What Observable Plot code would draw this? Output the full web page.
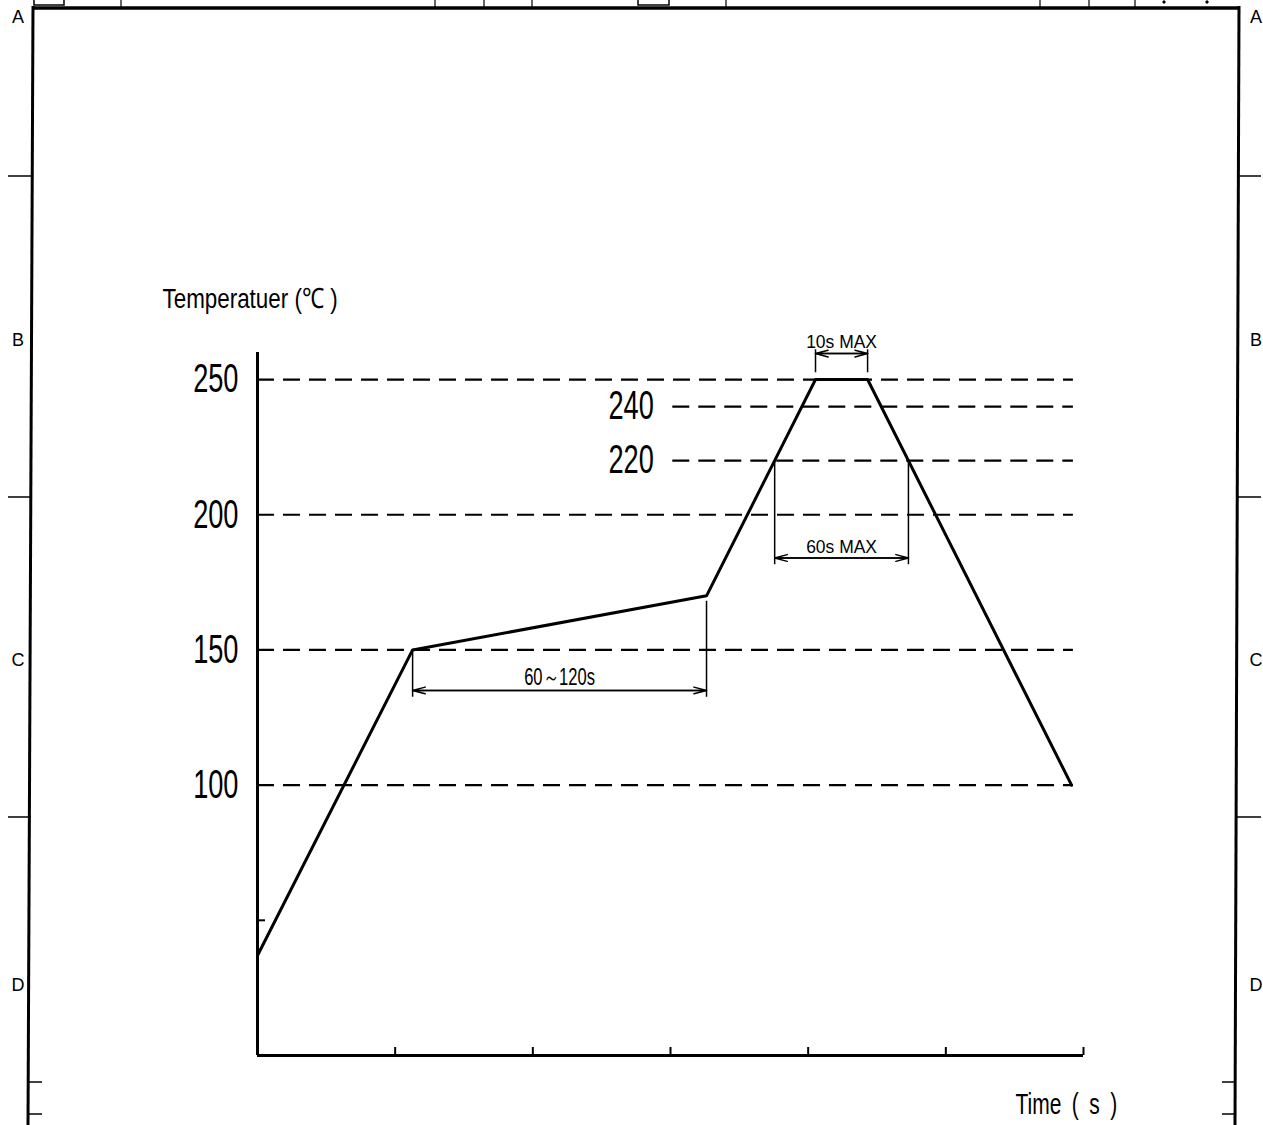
<!DOCTYPE html>
<html><head><meta charset="utf-8">
<script src="https://cdn.jsdelivr.net/npm/d3@7"></script>
<script src="https://cdn.jsdelivr.net/npm/@observablehq/plot@0.6"></script>
<style>
html,body{margin:0;padding:0;background:#fff;overflow:hidden}
#chart{position:absolute;left:0;top:0}
</style></head><body><div id="chart"></div>
<script>
// ---- data ----
const profileTime = [0, 67.6, 195.7, 243.2, 265.9, 354.8];   // s
const profileTemp = [37, 150, 170, 250, 250, 100];           // °C
const refTemps = [250, 240, 220, 200, 150, 100];
const refStart = [0, 181, 181, 0, 0, 0];
const refEnd = 355.6;
const xTicks = [60, 120, 180, 240, 300, 360];
const yTicks = [50];
const yLabel = "Temperatuer (℃ )";
const xLabel = "Time\u2002(\u2002s\u2002)";
const dimLabels = ["60～120s", "60s MAX", "10s MAX"];
const dimFrom = [67.6, 225.4, 243.2];
const dimTo = [195.7, 283.7, 265.9];
const dimAt = [135, 184, 259.6];
const extLeftFrom = [150, 220, 252.5];
const extRightFrom = [168, 220, 252.5];
const extTo = [132.5, 181.5, 261];
const zoneLetters = ["A", "B", "C", "D"];

// ---- tables built from the arrays ----
const profile = profileTime.map((t, i) => ({t, T: profileTemp[i]}));
const refs = refTemps.map((T, i) => ({T, start: refStart[i], end: refEnd}));
const dims = dimLabels.map((label, i) => ({label, from: dimFrom[i], to: dimTo[i], at: dimAt[i],
  lf: extLeftFrom[i], rf: extRightFrom[i], ext: extTo[i]}));

const font = "'Liberation Sans', Arial, sans-serif";
const W = 1263, H = 1125;
const mL = 257, mR = 180, mT = 352, mB = 70;
const plotW = W - mL - mR, plotH = H - mT - mB;

const chart = Plot.plot({
  width: W, height: H,
  marginLeft: mL, marginRight: mR, marginTop: mT, marginBottom: mB,
  x: {domain: [0, 360], axis: null},
  y: {domain: [0, 260], axis: null},
  style: {background: "white", fontFamily: font, color: "black"},
  marks: [
    // dashed reference levels
    Plot.ruleY(refs, {y: "T", x1: "start", x2: "end", stroke: "black", strokeWidth: 2.2, strokeDasharray: "17,9"}),
    // level labels
    Plot.text(refs, {x: "start", y: "T", text: d => String(d.T), textAnchor: "end", dx: -19,
      fontSize: 40, fill: "black"}),
    // axes
    Plot.ruleX([0], {y1: 0, y2: 260, stroke: "black", strokeWidth: 3}),
    Plot.ruleY([0], {x1: 0, x2: 360, stroke: "black", strokeWidth: 3}),
    Plot.tickX(xTicks, {x: d => d, insetTop: plotH - 8, stroke: "black", strokeWidth: 2}),
    Plot.tickY(yTicks, {y: d => d, insetRight: plotW - 8, stroke: "black", strokeWidth: 2}),
    // profile
    Plot.line(profile, {x: "t", y: "T", stroke: "black", strokeWidth: 3}),
    // dimension extension lines
    Plot.ruleX(dims, {x: "from", y1: "lf", y2: "ext", stroke: "black", strokeWidth: 1.5}),
    Plot.ruleX(dims, {x: "to", y1: "rf", y2: "ext", stroke: "black", strokeWidth: 1.5}),
    // dimension arrows (double-headed: one each way)
    Plot.arrow(dims, {x1: "to", y1: "at", x2: "from", y2: "at",
      stroke: "black", strokeWidth: 1.5, headLength: 13, headAngle: 30}),
    Plot.arrow(dims, {x1: "from", y1: "at", x2: "to", y2: "at",
      stroke: "black", strokeWidth: 1.5, headLength: 13, headAngle: 30}),
    // dimension texts
    Plot.text(dims, {filter: (d, i) => i === 0, x: d => (d.from + d.to) / 2, y: "at", text: "label",
      dy: -13, fontSize: 23, fill: "black"}),
    Plot.text(dims, {filter: (d, i) => i > 0, x: d => (d.from + d.to) / 2, y: "at", text: "label",
      dy: -11, fontSize: 18, fill: "black"}),
    // axis titles
    Plot.text([yLabel], {x: 0, y: 260, text: d => d, textAnchor: "start", dx: -95, dy: -53,
      fontSize: 28, fill: "black"}),
    Plot.text([xLabel], {x: 360, y: 0, text: d => d, textAnchor: "start", dx: -68, dy: 49,
      fontSize: 30, fill: "black"})
  ]
});
document.getElementById("chart").appendChild(chart);

// condense the text horizontally, like the narrow drafting font of the drawing
const squeeze = new Map();
refTemps.forEach(T => squeeze.set(String(T), 0.68));
squeeze.set(dimLabels[0], 0.72);
squeeze.set(dimLabels[1], 0.97);
squeeze.set(dimLabels[2], 0.97);
squeeze.set(yLabel, 0.8);
squeeze.set(xLabel, 0.7);
chart.querySelectorAll("text").forEach(t => {
  const k = squeeze.get(t.textContent);
  if (!k) return;
  const tr = t.getAttribute("transform") || "";
  const x = +t.getAttribute("x") || 0;
  t.setAttribute("transform", `${tr} translate(${x},0) scale(${k},1) translate(${-x},0)`);
});

// ---- drawing-sheet frame (decoration) ----
const svg = d3.select(chart);
const fr = svg.append("g").attr("stroke", "black").attr("fill", "none");
fr.append("path").attr("d", "M32,8H1239").attr("stroke-width", 3.5);
fr.append("path").attr("d", "M33,6L28,1125").attr("stroke-width", 3);
fr.append("path").attr("d", "M1239,6L1235,1125").attr("stroke-width", 3);
[176, 497, 817].forEach(y => {
  fr.append("path").attr("d", `M8,${y}H31`).attr("stroke-width", 1.5);
  fr.append("path").attr("d", `M1237,${y}H1261`).attr("stroke-width", 1.5);
});
[1082, 1114].forEach(y => {
  fr.append("path").attr("d", `M29,${y}H42`).attr("stroke-width", 1.5);
  fr.append("path").attr("d", `M1222,${y}H1235`).attr("stroke-width", 1.5);
});
[121, 435, 484, 532, 726, 1040, 1089, 1135].forEach(x => {
  fr.append("path").attr("d", `M${x},0V8`).attr("stroke-width", 1.2);
});
fr.append("path").attr("d", "M34,0V5H64V0").attr("stroke-width", 1.5);
fr.append("path").attr("d", "M638,0V5H669V0").attr("stroke-width", 1.5);
[1164, 1207].forEach(x => fr.append("circle").attr("cx", x).attr("cy", 2).attr("r", 1.2).attr("fill", "black"));
const zy = [17, 340, 660, 985];
zoneLetters.forEach((L, i) => {
  [18, 1256].forEach(x => {
    svg.append("text").attr("x", x).attr("y", zy[i]).attr("dy", "0.35em").attr("text-anchor", "middle")
      .attr("font-family", font).attr("font-size", 18).attr("fill", "black").text(L);
  });
});
</script>
</body></html>
